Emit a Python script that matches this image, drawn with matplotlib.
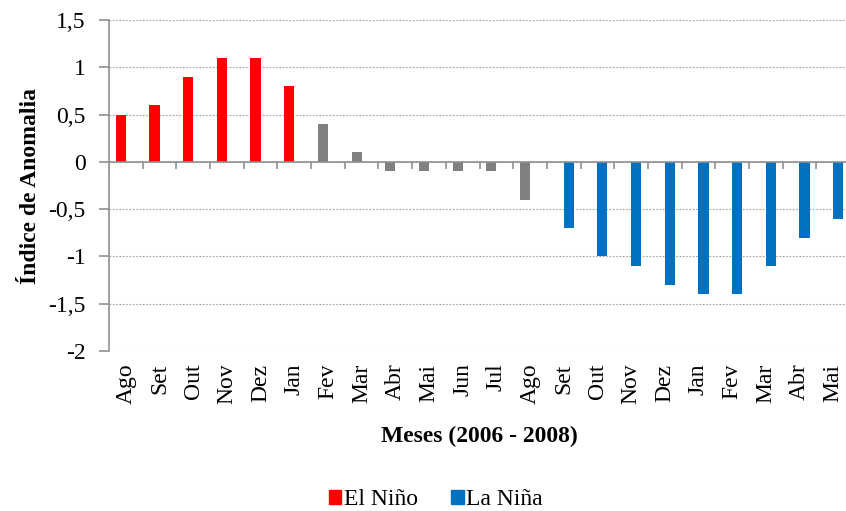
import numpy as np
import matplotlib
matplotlib.use("Agg")
import matplotlib.pyplot as plt
from matplotlib.patches import Patch

plt.rcParams['font.family'] = ['Liberation Serif', 'DejaVu Serif']

# dados
meses = ["Ago", "Set", "Out", "Nov", "Dez", "Jan", "Fev", "Mar", "Abr", "Mai", "Jun",
         "Jul", "Ago", "Set", "Out", "Nov", "Dez", "Jan", "Fev", "Mar", "Abr", "Mai"]
indice = [0.5, 0.6, 0.9, 1.1, 1.1, 0.8, 0.4, 0.1, -0.1, -0.1, -0.1,
          -0.1, -0.4, -0.7, -1.0, -1.1, -1.3, -1.4, -1.4, -1.1, -0.8, -0.6]
fase = ["nino"] * 6 + ["neutro"] * 7 + ["nina"] * 9

cores = {"nino": "#FF0000", "neutro": "#808080", "nina": "#0070C0"}
desloc = {"nino": -0.15, "neutro": -0.15, "nina": 0.15}

fig = plt.figure(figsize=(8.46, 5.11), dpi=100)
ax = fig.add_axes([109 / 846, 1 - 351 / 511, 741 / 846, 331 / 511])

x = np.arange(len(meses))
xpos = x + np.array([desloc[f] for f in fase])
ax.bar(xpos, indice, width=0.3, color=[cores[f] for f in fase], linewidth=0, zorder=3)

ax.set_xlim(-0.5, len(meses) - 0.5)
ax.set_ylim(-2, 1.5)
yt = np.arange(-2, 1.51, 0.5)
ax.set_yticks(yt)
ax.set_yticklabels([("%g" % v).replace(".", ",") for v in yt])
ax.yaxis.grid(True, linestyle=(0, (1.5, 1.5)), color="#A0A0A0", linewidth=0.8, zorder=0)

ax.set_xticks(x)
ax.set_xticklabels(meses, rotation=90)
ax.tick_params(axis="x", length=0, pad=9, labelsize=17)
ax.tick_params(axis="y", length=7, color="#909090", width=1.2, pad=10, labelsize=17)

for s in ["top", "right", "bottom"]:
    ax.spines[s].set_visible(False)
ax.spines["left"].set_color("#909090")
ax.spines["left"].set_linewidth(1.2)

# linha do zero com marcas entre categorias
ax.axhline(0, color="#909090", linewidth=1.2, zorder=4)
ax.vlines(np.arange(len(meses) + 1) - 0.5, -0.075, 0, color="#909090", linewidth=1.2, zorder=4)

ax.set_ylabel("Índice de Anomalia", fontsize=17, fontweight="bold", labelpad=5)
ax.set_xlabel("Meses (2006 - 2008)", fontsize=17, fontweight="bold", labelpad=16)

handles = [Patch(color=cores["nino"], label="El Niño"), Patch(color=cores["nina"], label="La Niña")]
fig.legend(handles=handles, loc="lower center", bbox_to_anchor=(0.515, -0.04), ncol=2,
           frameon=False, fontsize=17, handlelength=0.55, handleheight=0.55,
           handletextpad=0.1, columnspacing=1.4)

fig.savefig("out.png", dpi=100)
